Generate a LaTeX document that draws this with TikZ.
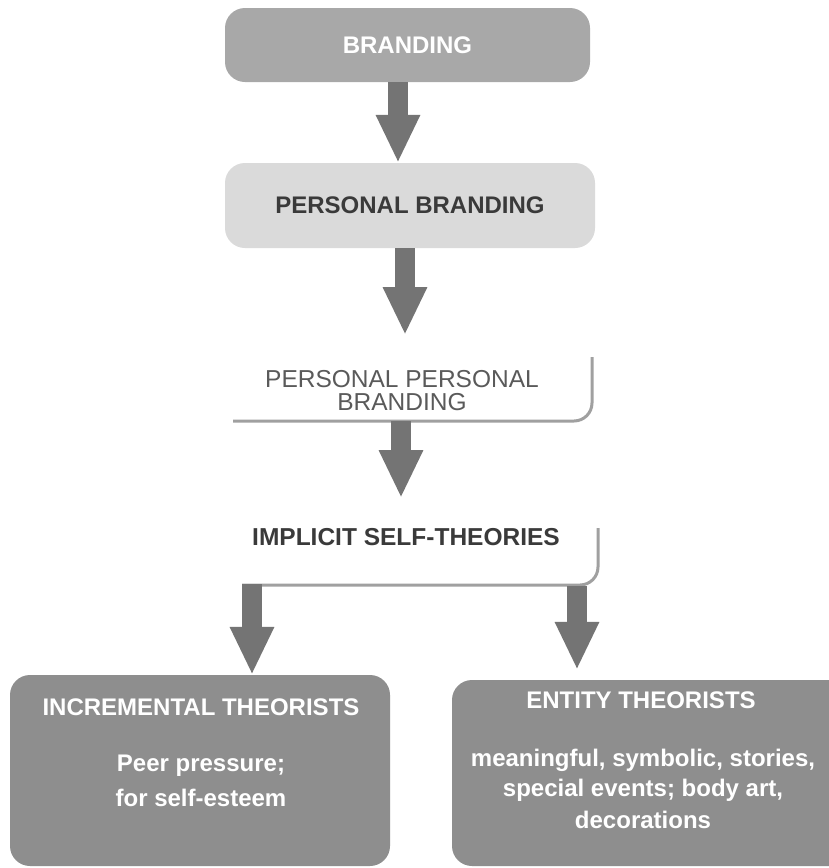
\documentclass[tikz,border=0pt]{standalone}
\usepackage{fontspec}
\setmainfont{Liberation Sans}
\usetikzlibrary{arrows.meta,calc}
\definecolor{boxdark}{HTML}{8E8E8E}
\definecolor{boxmid}{HTML}{A8A8A8}
\definecolor{boxlight}{HTML}{DADADA}
\definecolor{arrowgray}{HTML}{747474}
\definecolor{edgegray}{HTML}{A0A0A0}
\definecolor{txtdark}{HTML}{3A3A3A}
\definecolor{txtmid}{HTML}{5A5A5A}
\tikzset{
  boxbase/.style={rounded corners=20pt, inner sep=0pt},
  topbox/.style={boxbase, fill=boxmid, text=white, font=\fontsize{24}{26}\selectfont\bfseries},
  lightbox/.style={boxbase, fill=boxlight, text=txtdark, font=\fontsize{24}{26}\selectfont\bfseries},
  darkbox/.style={boxbase, fill=boxdark},
  whitetxt/.style={text=white, font=\fontsize{24}{26}\selectfont\bfseries, inner sep=0pt},
  plaintxt/.style={text=txtmid, font=\fontsize{24.5}{23}\selectfont, align=center, inner sep=0pt},
  boldtxt/.style={text=txtdark, font=\fontsize{24.5}{26}\selectfont\bfseries, inner sep=0pt},
  edgeline/.style={draw=edgegray, line width=3pt, rounded corners=18pt},
  barrow/.style={draw=arrowgray, line width=20pt, line cap=butt, -{Triangle[width=41pt,length=48pt]}}
}
\begin{document}
\begin{tikzpicture}[x=1pt,y=-1pt]
\clip (0,0) rectangle (829,868);
\fill[white] (0,0) rectangle (829,868);

% boxes
\node[topbox, minimum width=365pt, minimum height=74pt] (b1) at (407.5,45) {BRANDING};
\node[lightbox, minimum width=370pt, minimum height=85pt] (b2) at (410,205.5) {PERSONAL BRANDING};
\node[plaintxt] (b3) at (402,391) {PERSONAL PERSONAL\\BRANDING};
\node[boldtxt] (b4) at (406,537) {IMPLICIT SELF-THEORIES};
\node[darkbox, minimum width=380pt, minimum height=191pt] (b5) at (200,770.5) {};
\node[darkbox, minimum width=400pt, minimum height=186pt] (b6) at (652,773) {};

% shadow edges of the white boxes
\draw[edgeline] (233,421) -| (592,357);
\draw[edgeline] (242,585) -| (598,528);

% texts in dark boxes
\node[whitetxt] (t5a) at (201,707) {INCREMENTAL THEORISTS};
\node[whitetxt] (t5b) at (201,766) {Peer pressure;};
\node[whitetxt] (t5c) at (201,798) {for self-esteem};
\node[whitetxt] (t6a) at (641,700) {ENTITY THEORISTS};
\node[whitetxt] (t6b) at (643,760) {meaningful, symbolic, stories,};
\node[whitetxt] (t6c) at (643,790) {special events; body art,};
\node[whitetxt] (t6d) at (643,820) {decorations};

% arrow end points
\coordinate (a2e) at (405,335);
\coordinate (a3s) at (401,421);
\coordinate (a3e) at (401,498);
\coordinate (a4s) at (252,584);
\coordinate (a5s) at (577,586);

% arrows
\draw[barrow] (b1.south -| 398,0) -- (b2.north -| 398,0);
\draw[barrow] (b2.south -| 405,0) -- (a2e);
\draw[barrow] (a3s) -- (a3e);
\draw[barrow] (a4s) -- (b5.north -| a4s);
\draw[barrow] (a5s) -- ($(b6.north -| a5s)+(0,-10)$);
\end{tikzpicture}
\end{document}
